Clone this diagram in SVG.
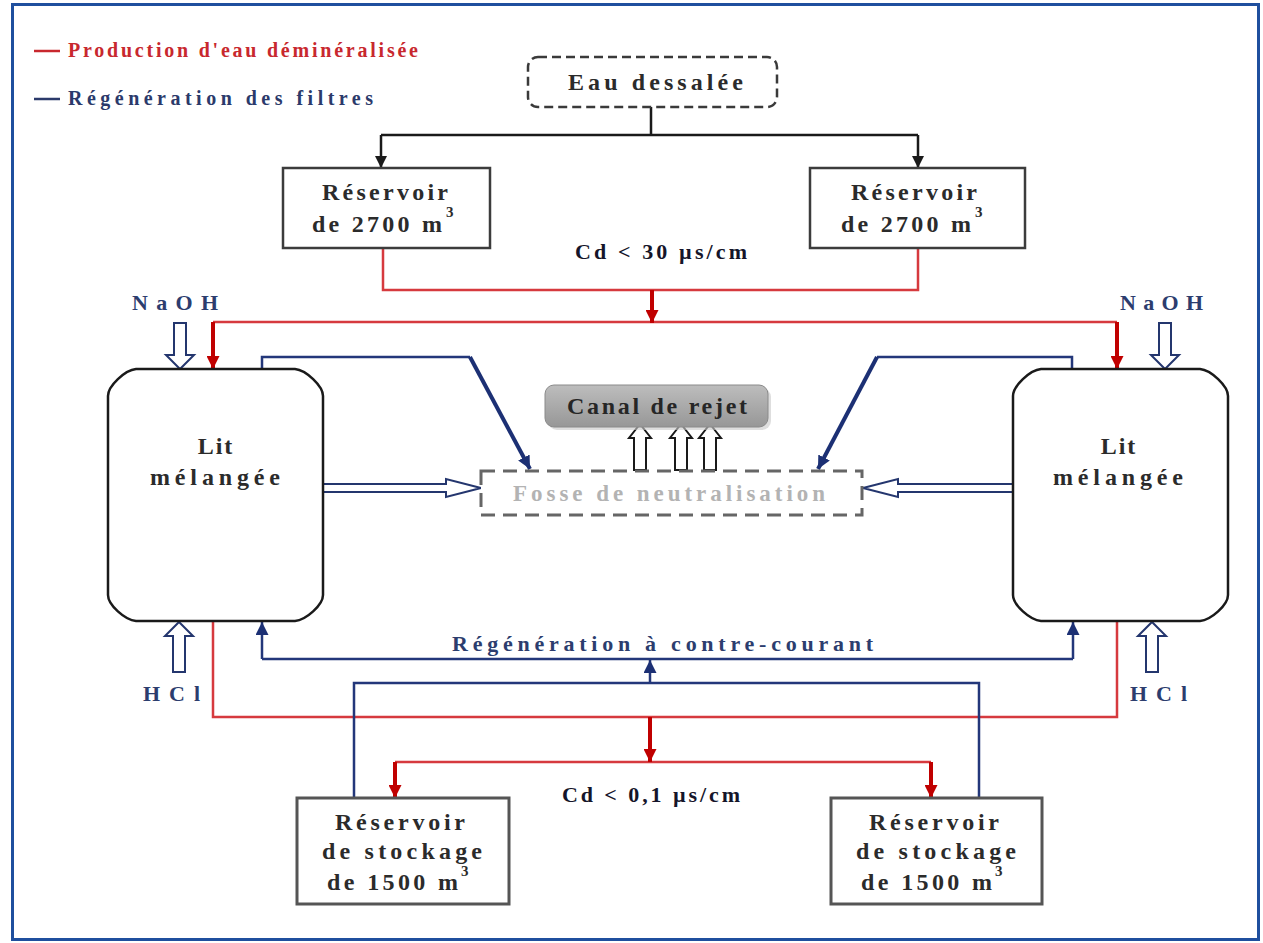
<svg xmlns="http://www.w3.org/2000/svg" width="1263" height="943" viewBox="0 0 1263 943">
<style>
text{font-family:"Liberation Serif","Times New Roman",serif;font-weight:bold}
.lbl{fill:#2b2b2b;font-size:24px}
.sup{fill:#2b2b2b;font-size:15px}
.blu{fill:#2c3d6e;font-size:22px}
.cd{fill:#15152a;font-size:22px}
.box{fill:#fff;stroke:#3c3c3c;stroke-width:2.5}
.sbox{fill:#fff;stroke:#555;stroke-width:3}
.tank{fill:#fff;stroke:#1a1a1a;stroke-width:2.5}
.blk{fill:none;stroke:#1a1a1a;stroke-width:2.5}
.red{fill:none;stroke:#d63a3e;stroke-width:2.5}
.redA{fill:none;stroke:#c00000;stroke-width:4}
.nav{fill:none;stroke:#23377a;stroke-width:2.5}
.navA{fill:none;stroke:#1c3074;stroke-width:4}
.hol{fill:#fff;stroke:#24366e;stroke-width:2}
.holk{fill:#fff;stroke:#1a1a1a;stroke-width:2}
</style>
<defs>
<marker id="mk" viewBox="0 0 10 10" refX="10" refY="5" markerWidth="12" markerHeight="12" markerUnits="userSpaceOnUse" orient="auto"><path d="M0,0 L10,5 L0,10 z" fill="#1a1a1a"/></marker>
<marker id="mr" viewBox="0 0 10 10" refX="10" refY="5" markerWidth="13" markerHeight="13" markerUnits="userSpaceOnUse" orient="auto"><path d="M0,0 L10,5 L0,10 z" fill="#c00000"/></marker>
<marker id="mb" viewBox="0 0 10 10" refX="10" refY="5" markerWidth="13" markerHeight="13" markerUnits="userSpaceOnUse" orient="auto"><path d="M0,0 L10,5 L0,10 z" fill="#1c3074"/></marker>
<linearGradient id="gc" x1="0" y1="0" x2="0" y2="1"><stop offset="0" stop-color="#bdbdbd"/><stop offset="1" stop-color="#979797"/></linearGradient>
</defs>
<rect x="12.5" y="4.5" width="1246" height="935" fill="#fff" stroke="#1f4f9e" stroke-width="3"/>

<g id="legend">
<line x1="34" y1="51" x2="60" y2="51" stroke="#c8282e" stroke-width="2.5"/>
<text x="68" y="57" font-size="20" fill="#c8282e" textLength="350" lengthAdjust="spacing">Production d'eau déminéralisée</text>
<line x1="34" y1="99" x2="60" y2="99" stroke="#2b3a6b" stroke-width="2.5"/>
<text x="68" y="105" font-size="20" fill="#2b3a6b" textLength="305" lengthAdjust="spacing">Régénération des filtres</text>
</g>

<g id="connectors">
<path class="blk" d="M651,107 V135 M381,135 H918"/>
<line class="blk" x1="381" y1="135" x2="381" y2="168" marker-end="url(#mk)"/>
<line class="blk" x1="918" y1="135" x2="918" y2="168" marker-end="url(#mk)"/>
<path class="red" d="M383,248 V290 H918 V248 M213,322 H1117 M213,621 V717 H1117 V621 M395,762 H931"/>
<line class="redA" x1="652" y1="290" x2="652" y2="323" marker-end="url(#mr)"/>
<line class="redA" x1="213" y1="322" x2="213" y2="369" marker-end="url(#mr)"/>
<line class="redA" x1="1117" y1="322" x2="1117" y2="369" marker-end="url(#mr)"/>
<line class="redA" x1="650" y1="717" x2="650" y2="762" marker-end="url(#mr)"/>
<line class="redA" x1="395" y1="762" x2="395" y2="798" marker-end="url(#mr)"/>
<line class="redA" x1="931" y1="762" x2="931" y2="798" marker-end="url(#mr)"/>
<path class="nav" d="M262,369 V357 H470 M1072,369 V357 H877 M262,659 H1073 M354,798 V683 H979 V798"/>
<line class="navA" x1="470" y1="357" x2="530" y2="469" marker-end="url(#mb)"/>
<line class="navA" x1="877" y1="357" x2="818" y2="469" marker-end="url(#mb)"/>
<line class="nav" x1="262" y1="659" x2="262" y2="622" stroke-width="3" marker-end="url(#mb)"/>
<line class="nav" x1="1073" y1="659" x2="1073" y2="622" stroke-width="3" marker-end="url(#mb)"/>
<line class="nav" x1="650" y1="683" x2="650" y2="660" stroke-width="3" marker-end="url(#mb)"/>
<polygon class="hol" points="174,323 186,323 186,355 194,355 180,369 166,355 174,355"/>
<polygon class="hol" points="1159,323 1171,323 1171,355 1179,355 1165,369 1151,355 1159,355"/>
<polygon class="hol" points="173,672 185,672 185,636 193,636 179,622 165,636 173,636"/>
<polygon class="hol" points="1146,672 1158,672 1158,636 1166,636 1152,622 1138,636 1146,636"/>
<polygon class="hol" points="323,484 446,484 446,479 481,488 446,497 446,492 323,492"/>
<polygon class="hol" points="1013,484 898,484 898,479 863,488 898,497 898,492 1013,492"/>
<polygon class="holk" points="634,470 646,470 646,438 651,438 640,424 629,438 634,438"/>
<polygon class="holk" points="675,470 687,470 687,438 692,438 681,424 670,438 675,438"/>
<polygon class="holk" points="704,470 716,470 716,438 721,438 710,424 699,438 704,438"/>
</g>

<g id="eau-dessalee">
<rect x="528" y="57" width="249" height="50" rx="10" fill="#fff" stroke="#3a3a3a" stroke-width="2.5" stroke-dasharray="9 5"/>
<text class="lbl" x="568" y="90" textLength="175" lengthAdjust="spacing">Eau dessalée</text>
</g>

<g id="reservoir-1">
<rect class="box" x="283" y="168" width="207" height="80"/>
<text class="lbl" x="322" y="200" textLength="126" lengthAdjust="spacing">Réservoir</text>
<text class="lbl" x="312" y="232" textLength="130" lengthAdjust="spacing">de 2700 m</text>
<text class="sup" x="446" y="217">3</text>
</g>
<g id="reservoir-2">
<rect class="box" x="810" y="168" width="215" height="80"/>
<text class="lbl" x="851" y="200" textLength="126" lengthAdjust="spacing">Réservoir</text>
<text class="lbl" x="841" y="232" textLength="130" lengthAdjust="spacing">de 2700 m</text>
<text class="sup" x="975" y="217">3</text>
</g>
<g id="cd-30">
<text class="cd" x="575" y="259" textLength="172" lengthAdjust="spacing">Cd &lt; 30 µs/cm</text>
</g>

<g id="naoh-left"><text class="blu" x="132" y="310" textLength="86" lengthAdjust="spacing">NaOH</text></g>
<g id="naoh-right"><text class="blu" x="1120" y="310" textLength="83" lengthAdjust="spacing">NaOH</text></g>

<g id="lit-left">
<path class="tank" d="M136,369 H295 C306,370 323,386 323,396 V595 C323,605 306,620 295,621 H136 C125,620 108,605 108,595 V396 C108,386 125,370 136,369 Z"/>
<text class="lbl" x="216" y="454" text-anchor="middle" letter-spacing="2">Lit</text>
<text class="lbl" x="150" y="485" textLength="130" lengthAdjust="spacing">mélangée</text>
</g>
<g id="lit-right">
<path class="tank" d="M1041,369 H1200 C1211,370 1228,386 1228,396 V595 C1228,605 1211,620 1200,621 H1041 C1030,620 1013,605 1013,595 V396 C1013,386 1030,370 1041,369 Z"/>
<text class="lbl" x="1119" y="454" text-anchor="middle" letter-spacing="2">Lit</text>
<text class="lbl" x="1053" y="485" textLength="130" lengthAdjust="spacing">mélangée</text>
</g>

<g id="canal-rejet">
<rect x="548" y="388" width="223" height="42" rx="9" fill="#c8c8c8" opacity="0.6"/>
<rect x="545" y="385" width="223" height="42" rx="9" fill="url(#gc)" stroke="#8a8a8a" stroke-width="1"/>
<text x="567" y="414" font-size="24" fill="#262626" textLength="180" lengthAdjust="spacing">Canal de rejet</text>
</g>

<g id="fosse">
<rect x="481" y="471" width="381" height="44" fill="#fff" stroke="#666" stroke-width="3" stroke-dasharray="14 8"/>
<text x="513" y="501" font-size="23" fill="#b3b3b3" textLength="312" lengthAdjust="spacing">Fosse de neutralisation</text>
</g>

<g id="hcl-left"><text class="blu" x="143" y="701" textLength="57" lengthAdjust="spacing">HCl</text></g>
<g id="hcl-right"><text class="blu" x="1130" y="701" textLength="57" lengthAdjust="spacing">HCl</text></g>
<g id="regen-label"><text class="blu" x="452" y="651" textLength="421" lengthAdjust="spacing">Régénération à contre-courant</text></g>
<g id="cd-01"><text class="cd" x="562" y="802" textLength="178" lengthAdjust="spacing">Cd &lt; 0,1 µs/cm</text></g>

<g id="stockage-1">
<rect class="sbox" x="297" y="798" width="212" height="106"/>
<text class="lbl" x="335" y="830" textLength="130" lengthAdjust="spacing">Réservoir</text>
<text class="lbl" x="322" y="859" textLength="160" lengthAdjust="spacing">de stockage</text>
<text class="lbl" x="327" y="890" textLength="131" lengthAdjust="spacing">de 1500 m</text>
<text class="sup" x="461" y="876">3</text>
</g>
<g id="stockage-2">
<rect class="sbox" x="831" y="798" width="211" height="106"/>
<text class="lbl" x="869" y="830" textLength="130" lengthAdjust="spacing">Réservoir</text>
<text class="lbl" x="856" y="859" textLength="160" lengthAdjust="spacing">de stockage</text>
<text class="lbl" x="861" y="890" textLength="131" lengthAdjust="spacing">de 1500 m</text>
<text class="sup" x="995" y="876">3</text>
</g>
</svg>
